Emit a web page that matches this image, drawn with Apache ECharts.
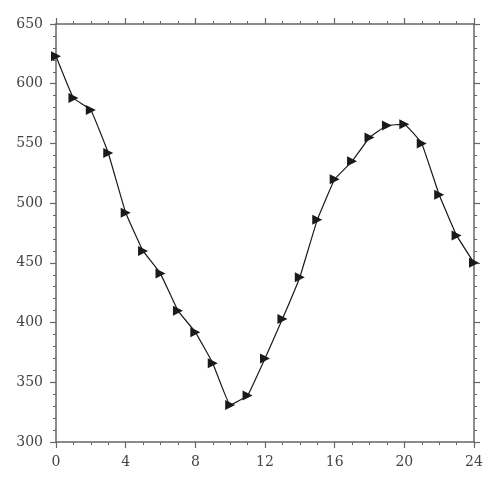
<!DOCTYPE html>
<html>
<head>
<meta charset="utf-8">
<script src="https://cdn.jsdelivr.net/npm/echarts@6/dist/echarts.min.js"></script>
<style>html,body{margin:0;padding:0;background:#fff;}#c{width:500px;height:485px;}</style>
</head>
<body>
<div id="c"></div>
<script>
const xValues = [0,1,2,3,4,5,6,7,8,9,10,11,12,13,14,15,16,17,18,19,20,21,22,23,24];
const yValues = [623,588,578,542,492,460,441,410,392,366,331,339,370,403,438,486,520,535,555,565,566,550,507,473,450];
const xTicks = [0,4,8,12,16,20,24];
const yTicks = [300,350,400,450,500,550,600,650];

const chart = echarts.init(document.getElementById('c'), null, {renderer:'canvas'});
const axisColor = '#666';
const font = 'DejaVu Serif';
function xAxis(pos, showLabel){
  return {
    type:'value', position:pos, min:0, max:24, interval:4,
    axisLine:{show:true, onZero:false, lineStyle:{color:axisColor, width:1.5}},
    axisTick:{show:true, length:6, lineStyle:{color:axisColor, width:1.2}},
    minorTick:{show:true, splitNumber:4, length:3, lineStyle:{color:axisColor, width:1}},
    splitLine:{show:false},
    axisLabel:{show:showLabel, color:'#444', fontFamily:font, fontSize:14, margin:13}
  };
}
function yAxis(pos, showLabel){
  return {
    type:'value', position:pos, min:300, max:650, interval:50,
    axisLine:{show:true, onZero:false, lineStyle:{color:axisColor, width:1.5}},
    axisTick:{show:true, length:6, lineStyle:{color:axisColor, width:1.2}},
    minorTick:{show:true, splitNumber:5, length:3, lineStyle:{color:axisColor, width:1}},
    splitLine:{show:false},
    axisLabel:{show:showLabel, color:'#444', fontFamily:font, fontSize:14, margin:13}
  };
}
chart.setOption({
  animation:false,
  grid:{left:56, right:26, top:24, bottom:43, containLabel:false},
  xAxis:[xAxis('bottom', true), xAxis('top', false)],
  yAxis:[yAxis('left', true), yAxis('right', false)],
  series:[{
    type:'line',
    data: xValues.map((x,i)=>[x, yValues[i]]),
    smooth:0.08,
    symbol:'triangle',
    symbolSize:10,
    symbolRotate:-90,
    itemStyle:{color:'#1a1a1a'},
    lineStyle:{color:'#1a1a1a', width:1.2}
  }]
});
</script>
</body>
</html>
